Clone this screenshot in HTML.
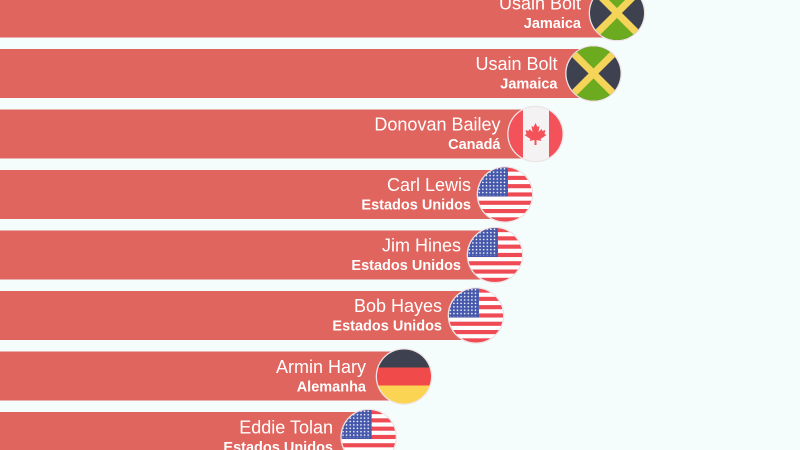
<!DOCTYPE html>
<html>
<head>
<meta charset="utf-8">
<style>
  html, body { margin: 0; padding: 0; background: #f5fcfc; }
  svg { display: block; }
  .n { font-family: "Liberation Sans", sans-serif; font-size: 18px; fill: #ffffff; }
  .c { font-family: "Liberation Sans", sans-serif; font-size: 14.5px; font-weight: bold; fill: #ffffff; }
</style>
</head>
<body>
<svg width="800" height="450" viewBox="0 0 800 450" xmlns="http://www.w3.org/2000/svg">
  <defs>
    <clipPath id="cc"><circle cx="0" cy="0" r="27"/></clipPath>
    <pattern id="stars" patternUnits="userSpaceOnUse" x="-27" y="-27" width="3.6" height="3.4">
      <circle cx="1.3" cy="1.3" r="0.8" fill="#ffffff"/>
    </pattern>
    <g id="us">
      <circle r="28.3" fill="#eee4e4"/>
      <g clip-path="url(#cc)">
        <rect x="-28" y="-28" width="56" height="56" fill="#ffffff"/>
        <rect x="-28" y="-27" width="56" height="4.15" fill="#ef4b55"/>
        <rect x="-28" y="-18.7" width="56" height="4.15" fill="#ef4b55"/>
        <rect x="-28" y="-10.4" width="56" height="4.15" fill="#ef4b55"/>
        <rect x="-28" y="-2.1" width="56" height="4.15" fill="#ef4b55"/>
        <rect x="-28" y="6.2" width="56" height="4.15" fill="#ef4b55"/>
        <rect x="-28" y="14.5" width="56" height="4.15" fill="#ef4b55"/>
        <rect x="-28" y="22.8" width="56" height="4.15" fill="#ef4b55"/>
        <rect x="-28" y="-28" width="31" height="30" fill="#4558ab"/>
        <rect x="-27" y="-27" width="29.5" height="28" fill="url(#stars)"/>
      </g>
    </g>
    <g id="jm">
      <circle r="28.3" fill="#eee4e4"/>
      <g clip-path="url(#cc)">
        <rect x="-28" y="-28" width="56" height="56" fill="#3e414f"/>
        <polygon points="-30,-30 30,-30 0,0" fill="#6cab1f"/>
        <polygon points="-30,30 30,30 0,0" fill="#6cab1f"/>
        <line x1="-30" y1="-30" x2="30" y2="30" stroke="#f4d55a" stroke-width="7"/>
        <line x1="-30" y1="30" x2="30" y2="-30" stroke="#f4d55a" stroke-width="7"/>
      </g>
    </g>
    <g id="ca">
      <circle r="28.3" fill="#eee4e4"/>
      <g clip-path="url(#cc)">
        <rect x="-28" y="-28" width="56" height="56" fill="#f4f2f2"/>
        <rect x="-28" y="-28" width="15.5" height="56" fill="#f3525a"/>
        <rect x="13.5" y="-28" width="15" height="56" fill="#f3525a"/>
        <polygon fill="#f3525a" points="0,-11 2,-7 4,-8 3,-2 6,-5 7,-3 10,-4 9,0 11,1 5,5 6,7 1,6 1,11 -1,11 -1,6 -6,7 -5,5 -11,1 -9,0 -10,-4 -7,-3 -6,-5 -3,-2 -4,-8 -2,-7"/>
      </g>
    </g>
    <g id="de">
      <circle r="28.3" fill="#eee4e4"/>
      <g clip-path="url(#cc)">
        <rect x="-28" y="-28" width="56" height="19" fill="#3e414f"/>
        <rect x="-28" y="-9" width="56" height="18" fill="#f04a4a"/>
        <rect x="-28" y="9" width="56" height="19" fill="#fcd453"/>
      </g>
    </g>
  </defs>

  <rect x="0" y="0" width="800" height="450" fill="#f5fcfc"/>

  <!-- bars -->
  <g fill="#e0655f">
    <rect x="-5" y="-11.5" width="622" height="49"/>
    <rect x="-5" y="49" width="598.5" height="49"/>
    <rect x="-5" y="109.5" width="540.5" height="49"/>
    <rect x="-5" y="170" width="510" height="49"/>
    <rect x="-5" y="230.5" width="500" height="49"/>
    <rect x="-5" y="291" width="481" height="49"/>
    <rect x="-5" y="351.5" width="409" height="49"/>
    <rect x="-5" y="412" width="373.5" height="49"/>
  </g>

  <!-- flags -->
  <use href="#jm" x="617" y="13"/>
  <use href="#jm" x="593.5" y="73.5"/>
  <use href="#ca" x="535.5" y="134"/>
  <use href="#us" x="505" y="194.5"/>
  <use href="#us" x="495" y="255"/>
  <use href="#us" x="476" y="315.5"/>
  <use href="#de" x="404" y="376.5"/>
  <use href="#us" x="368.7" y="437"/>

  <!-- labels -->
  <g text-anchor="end">
    <text class="n" x="581" y="9.5">Usain Bolt</text>
    <text class="c" x="581" y="28">Jamaica</text>

    <text class="n" x="557.5" y="70">Usain Bolt</text>
    <text class="c" x="557.5" y="88.5">Jamaica</text>

    <text class="n" x="500.5" y="130.5">Donovan Bailey</text>
    <text class="c" x="500.5" y="149">Canadá</text>

    <text class="n" x="471" y="191">Carl Lewis</text>
    <text class="c" x="471" y="209.5">Estados Unidos</text>

    <text class="n" x="461" y="251.5">Jim Hines</text>
    <text class="c" x="461" y="270">Estados Unidos</text>

    <text class="n" x="442" y="312">Bob Hayes</text>
    <text class="c" x="442" y="330.5">Estados Unidos</text>

    <text class="n" x="366" y="373">Armin Hary</text>
    <text class="c" x="366" y="391.5">Alemanha</text>

    <text class="n" x="333" y="433.5">Eddie Tolan</text>
    <text class="c" x="333" y="452">Estados Unidos</text>
  </g>
</svg>
</body>
</html>
